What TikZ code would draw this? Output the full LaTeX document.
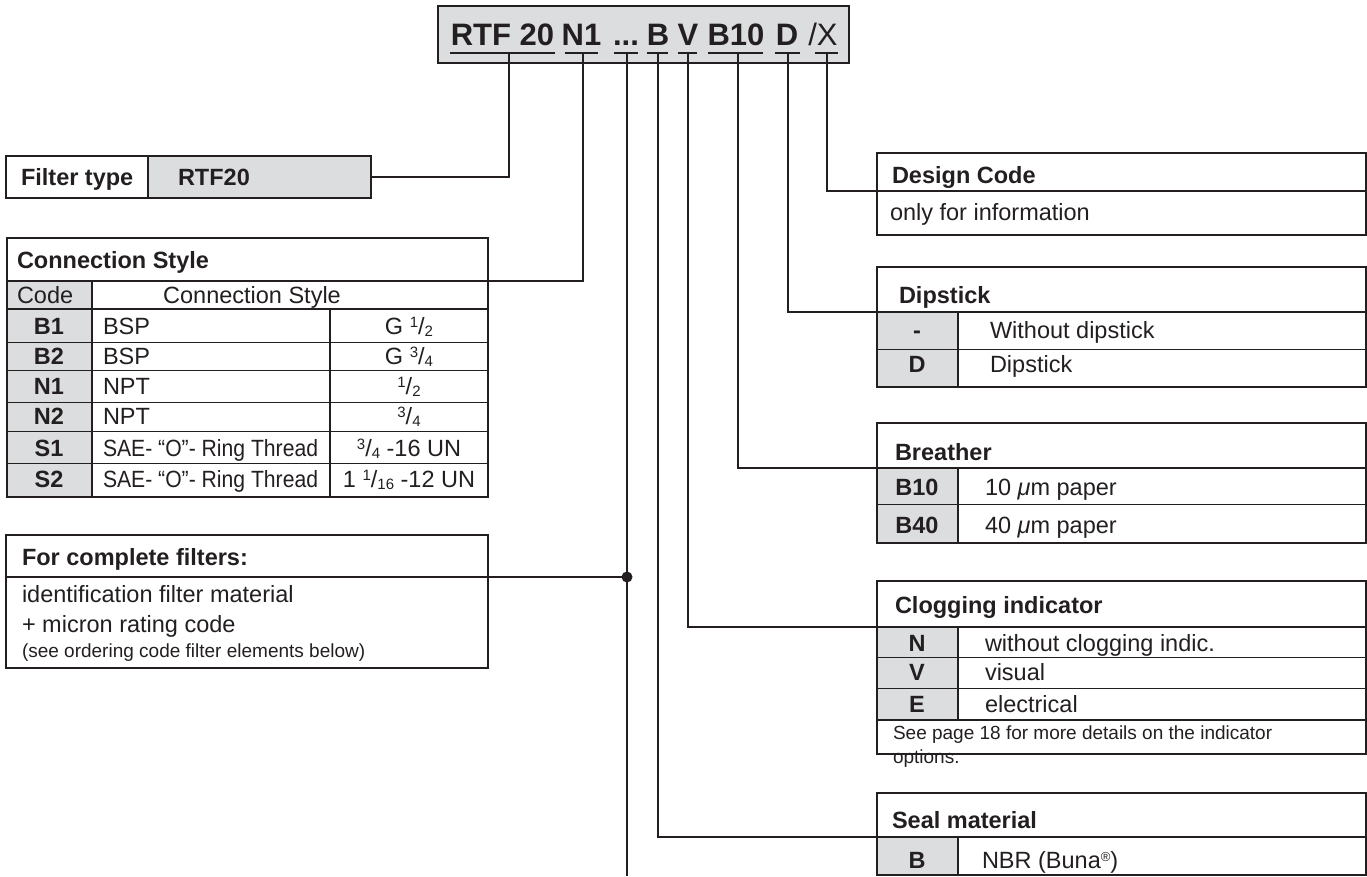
\documentclass[tikz,border=0pt]{standalone}
\usepackage{fontspec}
\usepackage{graphicx}
\setmainfont{Liberation Sans}
\usepackage{tikz}
\usetikzlibrary{positioning}

\definecolor{codegray}{HTML}{DCDDDF}
\definecolor{ink}{HTML}{231F20}
\newcommand{\frc}[2]{\raisebox{7pt}{\fontsize{15}{15}\selectfont#1}/\raisebox{-2pt}{\fontsize{15}{15}\selectfont#2}}

\begin{document}
\begin{tikzpicture}[x=1pt, y=-1pt,
  every node/.style={inner sep=0, outer sep=0, text=ink},
  frame/.style={draw=ink, line width=1.8pt, anchor=north west},
  grid/.style={draw=ink, line width=1pt},
  lead/.style={draw=ink, line width=2pt},
  tok/.style={font=\fontsize{31}{34}\selectfont\bfseries, anchor=base},
  hd/.style={font=\fontsize{23.5}{26}\selectfont\bfseries, anchor=base west},
  tx/.style={font=\fontsize{23.5}{26}\selectfont, anchor=base west},
  cd/.style={font=\fontsize{23.5}{26}\selectfont\bfseries, anchor=base},
  mid/.style={font=\fontsize{23.5}{26}\selectfont, anchor=base},
  sm/.style={font=\fontsize{19}{22}\selectfont, anchor=base west}]
  \useasboundingbox (0,0) rectangle (1367,876);

  % ordering code
  \node[frame, fill=codegray, minimum width=411pt, minimum height=57pt] (code) at (438,6) {};
  \node[tok] (tRTF) at (502.5,45) {RTF 20};
  \node[tok] (tN)   at (581.5,45) {N1};
  \node[tok] (tDot) at (626,45)   {...};
  \node[tok] (tB)   at (658,45)   {B};
  \node[tok] (tV)   at (688,45)   {V};
  \node[tok] (tBr)  at (736,45)   {B10};
  \node[tok] (tD)   at (787,45)   {D};
  \node[tok, font=\fontsize{31}{34}\selectfont] (tX) at (823,45) {/X};
  \foreach \a/\b in {450/555, 565/598, 614/638, 647/668, 678/697, 708/763, 775/800, 815/838}
    \draw[lead] (\a,53) -- (\b,53);
  \coordinate (sRTF) at (509,53);
  \coordinate (sN)   at (583,53);
  \coordinate (sDot) at (627,53);
  \coordinate (sB)   at (658,53);
  \coordinate (sV)   at (688,53);
  \coordinate (sBr)  at (738,53);
  \coordinate (sD)   at (788,53);
  \coordinate (sX)   at (827,53);
  \coordinate (low)  at (627,876);

  % filter type
  \node[frame, minimum width=142pt, minimum height=42pt] (flab) at (6,156) {};
  \node[frame, fill=codegray, minimum width=223pt, minimum height=42pt] (ftype) at (148,156) {};
  \node[hd] (flabt) at (21,185) {Filter type};
  \node[hd] (ftypet) at (178,185) {RTF20};

  % connection style
  \fill[codegray] (7,281) rectangle (92,497);
  \node[frame, minimum width=481pt, minimum height=43pt] (cshead) at (7,238) {};
  \node[frame, minimum width=481pt, minimum height=216pt] (csbody) at (7,281) {};
  \draw[frame] (7,309) -- (488,309);
  \foreach \r in {342,370,402,431,463}
    \draw[grid] (7,\r) -- (488,\r);
  \draw[frame] (92,281) -- (92,497);
  \draw[frame] (330,309) -- (330,497);
  \node[hd] (csh) at (17,268) {Connection Style};
  \node[tx] (csc) at (17,303) {Code};
  \node[mid] (css) at (252,303) {Connection Style};
  \foreach \c/\s/\g/\y [count=\i] in {B1/BSP/G \frc12/334, B2/BSP/G \frc34/364,
      N1/NPT/\frc12/394, N2/NPT/\frc34/424,
      S1/\scalebox{0.9}[1]{SAE- “O”- Ring Thread}/\frc34 -16 UN/456,
      S2/\scalebox{0.9}[1]{SAE- “O”- Ring Thread}/1 \frc1{16} -12 UN/487} {
    \node[cd] (csk\i) at (49,\y) {\c};
    \node[tx] (csn\i) at (103,\y) {\s};
    \node[mid] (csg\i) at (409,\y) {\g};
  }

  % complete filters
  \node[frame, minimum width=482pt, minimum height=42pt] (cfhead) at (6,535) {};
  \node[frame, minimum width=482pt, minimum height=91pt] (cfbody) at (6,577) {};
  \node[hd] (cfh) at (22,565) {For complete filters:};
  \node[tx] (cf1) at (22,602) {identification filter material};
  \node[tx] (cf2) at (22,632) {+ micron rating code};
  \node[sm] (cf3) at (22,657) {(see ordering code filter elements below)};
  \node[circle, fill=ink, minimum size=11pt] (dot) at (627,577) {};

  % design code
  \node[frame, minimum width=489pt, minimum height=38pt] (dchead) at (877,153) {};
  \node[frame, minimum width=489pt, minimum height=44pt] (dcbody) at (877,191) {};
  \node[hd] (dch) at (892,183) {Design Code};
  \node[tx] (dc1) at (890,220) {only for information};

  % dipstick
  \fill[codegray] (877,312) rectangle (958,387);
  \node[frame, minimum width=489pt, minimum height=45pt] (dshead) at (877,267) {};
  \node[frame, minimum width=489pt, minimum height=75pt] (dsbody) at (877,312) {};
  \draw[grid] (877,349) -- (1366,349);
  \draw[frame] (958,312) -- (958,387);
  \node[hd] (dsh) at (899,303) {Dipstick};
  \node[cd] (ds1) at (917,338) {-};
  \node[tx] (ds1t) at (990,338) {Without dipstick};
  \node[cd] (ds2) at (917,372) {D};
  \node[tx] (ds2t) at (990,372) {Dipstick};

  % breather
  \fill[codegray] (877,468) rectangle (958,543);
  \node[frame, minimum width=489pt, minimum height=45pt] (brhead) at (877,423) {};
  \node[frame, minimum width=489pt, minimum height=75pt] (brbody) at (877,468) {};
  \draw[grid] (877,504) -- (1366,504);
  \draw[frame] (958,468) -- (958,543);
  \node[hd] (brh) at (895,460) {Breather};
  \node[cd] (br1) at (917,495) {B10};
  \node[tx] (br1t) at (985,495) {10 {\itshape μ}m paper};
  \node[cd] (br2) at (917,533) {B40};
  \node[tx] (br2t) at (985,533) {40 {\itshape μ}m paper};

  % clogging indicator
  \fill[codegray] (877,627) rectangle (958,720);
  \node[frame, minimum width=489pt, minimum height=46pt] (cihead) at (877,581) {};
  \node[frame, minimum width=489pt, minimum height=127pt] (cibody) at (877,627) {};
  \draw[grid] (877,657) -- (1366,657);
  \draw[grid] (877,688) -- (1366,688);
  \draw[frame] (877,720) -- (1366,720);
  \draw[frame] (958,627) -- (958,720);
  \node[hd] (cih) at (895,613) {Clogging indicator};
  \node[cd] (ci1) at (917,651) {N};
  \node[tx] (ci1t) at (985,651) {without clogging indic.};
  \node[cd] (ci2) at (917,680) {V};
  \node[tx] (ci2t) at (985,680) {visual};
  \node[cd] (ci3) at (917,712) {E};
  \node[tx] (ci3t) at (985,712) {electrical};
  \node[sm] (cin1) at (893,739) {See page 18 for more details on the indicator};
  \node[sm] (cin2) at (893,763) {options.};

  % seal material
  \fill[codegray] (877,837) rectangle (958,875);
  \node[frame, minimum width=489pt, minimum height=44pt] (smhead) at (877,793) {};
  \node[frame, minimum width=489pt, minimum height=38pt] (smbody) at (877,837) {};
  \draw[frame] (958,837) -- (958,875);
  \node[hd] (smh) at (892,828) {Seal material};
  \node[cd] (sm1) at (917,868) {B};
  \node[tx] (sm1t) at (982,868) {NBR (Buna\raisebox{7pt}{\fontsize{13}{13}\selectfont ®})};

  % leads
  \draw[lead] (sRTF) |- (ftype.east);
  \draw[lead] (sN) |- (cshead.south east);
  \draw[lead] (sDot) -- (low);
  \draw[lead] (cfhead.south east) -- (dot);
  \draw[lead] (sB) |- (smhead.south west);
  \draw[lead] (sV) |- (cihead.south west);
  \draw[lead] (sBr) |- (brhead.south west);
  \draw[lead] (sD) |- (dshead.south west);
  \draw[lead] (sX) |- (dchead.south west);
\end{tikzpicture}
\end{document}
